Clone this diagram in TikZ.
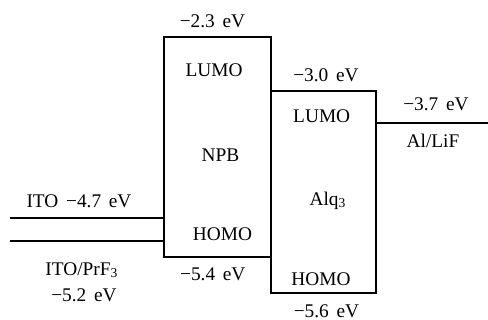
\documentclass[tikz,border=0pt]{standalone}
\usepackage{fontspec}
\setmainfont{Liberation Serif}
\newcommand{\gapsp}{\hspace{0.4em}}
\begin{document}
\begin{tikzpicture}[x=0.75pt,y=-0.75pt,
  lbl/.style={anchor=base,inner sep=0pt,font=\fontsize{14.5}{16}\selectfont},
  level/.style={draw=black,line width=0.8pt}]
\useasboundingbox (0,0) rectangle (488,320);
% boxes
\draw[level] (164,37) rectangle (271,257);
\draw[level] (271,91) rectangle (376,293);
% ITO lines
\coordinate (itoA) at (10,218);
\coordinate (itoAe) at (164,218);
\coordinate (itoB) at (10,241);
\coordinate (itoBe) at (164,241);
\draw[level] (itoA) -- (itoAe);
\draw[level] (itoB) -- (itoBe);
% Al/LiF line
\coordinate (al) at (376,123);
\coordinate (ale) at (488,123);
\draw[level] (al) -- (ale);
% labels
\node[lbl] (e23) at (212.5,27.5) {−2.3\gapsp eV};
\node[lbl] (lumo1) at (214,77) {LUMO};
\node[lbl] (npb) at (220.5,162) {NPB};
\node[lbl] (homo1) at (222.5,240) {HOMO};
\node[lbl] (e54) at (212.8,280) {−5.4\gapsp eV};
\node[lbl] (e30) at (326,82) {−3.0\gapsp eV};
\node[lbl] (lumo2) at (321.7,123) {LUMO};
\node[lbl] (alq) at (327.8,205) {Alq\textsubscript{3}};
\node[lbl] (homo2) at (321,285) {HOMO};
\node[lbl] (e56) at (326.5,317) {−5.6\gapsp eV};
\node[lbl] (e37) at (436,110.7) {−3.7\gapsp eV};
\node[lbl] (allif) at (433,148) {Al/LiF};
\node[lbl] (ito) at (79,207) {ITO\gapsp−4.7\gapsp eV};
\node[lbl] (itoprf) at (81.7,275) {ITO/PrF\textsubscript{3}};
\node[lbl] (e52) at (84,301.7) {−5.2\gapsp eV};
\end{tikzpicture}
\end{document}
